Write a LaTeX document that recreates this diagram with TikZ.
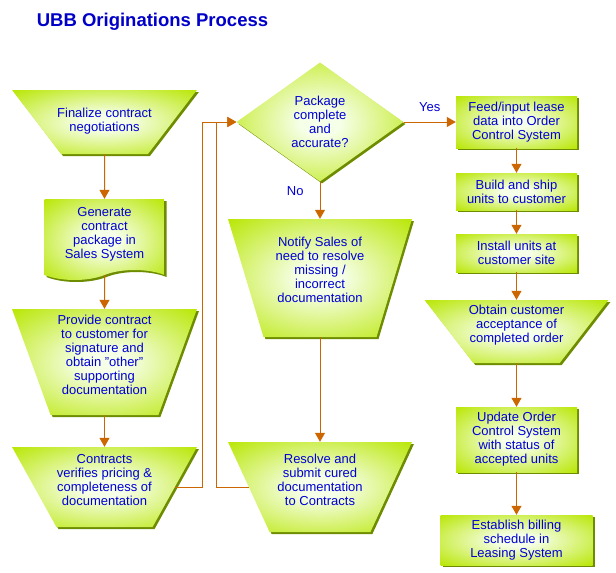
\documentclass[tikz,border=0pt]{standalone}
\usepackage{fontspec}
\setmainfont{Liberation Sans}
\usetikzlibrary{arrows.meta,shapes.geometric,shapes.symbols,shadows}

\definecolor{leafgreen}{RGB}{184,230,0}
\definecolor{leafglow}{RGB}{246,255,232}
\definecolor{leafshadow}{RGB}{110,140,0}
\definecolor{floworange}{RGB}{204,102,0}
\definecolor{textblue}{RGB}{0,0,215}
\definecolor{titleblue}{RGB}{0,0,200}

\pgfdeclareradialshading{leafshade}{\pgfpoint{0bp}{0bp}}{%
  color(0bp)=(leafglow); color(6bp)=(leafglow); color(36bp)=(leafgreen); color(50bp)=(leafgreen)}

\tikzset{
  txt/.style={text=textblue, align=center, inner sep=0pt, font=\fontsize{13}{14}\selectfont},
  base/.style={inner sep=0pt, shading=leafshade,
    drop shadow={shadow xshift=2pt, shadow yshift=-2pt, fill=leafshadow, opacity=1}},
  trap/.style={base, inner sep=3pt, trapezium, shape border rotate=180, trapezium stretches=true},
  stepbox/.style={base, txt, rectangle},
  docbox/.style={base, txt, tape, tape bend top=none, tape bend bottom=in and out, tape bend height=10pt},
  decide/.style={base, txt, diamond},
  flow/.style={draw=floworange, line width=1pt, -{Triangle[width=10pt,length=9pt]}},
  lbl/.style={txt, fill=none}
}

\begin{document}
\begin{tikzpicture}[x=1pt, y=-1pt]
  \useasboundingbox (0,0) rectangle (616,573);

  \node[text=titleblue, font=\fontsize{18.5}{22}\bfseries\selectfont] (title) at (152.5,22) {UBB Originations Process};

  \node[trap, trapezium angle=60.6, minimum width=185pt, minimum height=64pt] (finalize) at (104.5,122) {};
  \node[txt] (finalize-t) at (104.5,121) {Finalize contract\\negotiations};
  \node[docbox, minimum width=120pt, minimum height=81pt] (generate) at (104.5,234.5) {Generate\\contract\\package in\\Sales System};
  \node[trap, trapezium angle=70.3, minimum width=185pt, minimum height=106pt] (provide) at (104.5,362) {};
  \node[txt] (provide-t) at (104.5,355) {Provide contract\\to customer for\\signature and\\obtain \symbol{34}other\symbol{34}\\supporting\\documentation};
  \node[trap, trapezium angle=65.2, minimum width=185pt, minimum height=80pt] (contracts) at (104.5,487) {};
  \node[txt] (contracts-t) at (104.5,480) {Contracts\\verifies pricing \&\\completeness of\\documentation};

  \node[decide, minimum width=167pt, minimum height=119pt] (check) at (320,122) {Package\\complete\\and\\accurate?};
  \node[trap, trapezium angle=72.6, minimum width=184pt, minimum height=118pt] (notify) at (320,278) {};
  \node[txt] (notify-t) at (320,270) {Notify Sales of\\need to resolve\\missing /\\incorrect\\documentation};
  \node[trap, trapezium angle=67.6, minimum width=184pt, minimum height=90pt] (resolve) at (320,487) {};
  \node[txt] (resolve-t) at (320,480) {Resolve and\\submit cured\\documentation\\to Contracts};

  \node[stepbox, minimum width=121pt, minimum height=52pt] (feed) at (516.5,122) {Feed/input lease\\data into Order\\Control System};
  \node[stepbox, minimum width=121pt, minimum height=37pt] (build) at (516.5,191.5) {Build and ship\\units to customer};
  \node[stepbox, minimum width=121pt, minimum height=38pt] (install) at (516.5,253) {Install units at\\customer site};
  \node[trap, trapezium angle=60.6, minimum width=184pt, minimum height=63pt] (obtain) at (516.5,331.5) {};
  \node[txt] (obtain-t) at (516.5,325) {Obtain customer\\acceptance of\\completed order};
  \node[stepbox, minimum width=121pt, minimum height=65pt] (update) at (516.5,439.5) {Update Order\\Control System\\with status of\\accepted units};
  \node[stepbox, minimum width=152pt, minimum height=50pt] (establish) at (516.5,540) {Establish billing\\schedule in\\Leasing System};

  \coordinate (loopa) at (202,122);
  \coordinate (loopb) at (216,122);

  \draw[flow] (finalize) -- (generate);
  \draw[flow] (generate) -- (provide);
  \draw[flow] (provide) -- (contracts);
  \draw[flow] (contracts.0) -| (loopa) -- (check.west);
  \draw[flow] (resolve.180) -| (loopb) -- (check.west);
  \draw[flow] (check.east) -- node[lbl, above=10pt] (yes) {Yes} (feed.west);
  \draw[flow] (check.south) -- node[lbl, left=16pt, pos=0.25] (no) {No} (notify);
  \draw[flow] (notify) -- (resolve);
  \draw[flow] (feed) -- (build);
  \draw[flow] (build) -- (install);
  \draw[flow] (install) -- (obtain);
  \draw[flow] (obtain) -- (update);
  \draw[flow] (update) -- (establish);
\end{tikzpicture}
\end{document}
